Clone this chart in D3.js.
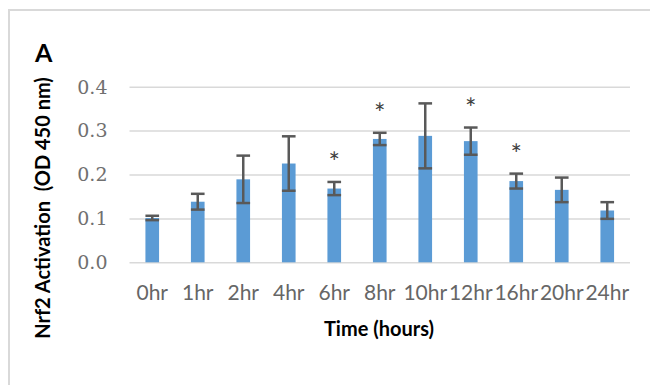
<html>
<head>
  <meta charset="utf-8">
  <script src="https://d3js.org/d3.v7.min.js"></script>
</head>
<style>
  body { margin: 0; background: #fff; }
  .grid line { stroke: #d9d9d9; stroke-width: 1.5; }
  .grid path { display: none; }
</style>
<body>
  <div class="chart"></div>
  <script>
    // values
    var times = ["0hr", "1hr", "2hr", "4hr", "6hr", "8hr", "10hr", "12hr", "16hr", "20hr", "24hr"];
    var means = [0.101, 0.138, 0.189, 0.225, 0.168, 0.281, 0.288, 0.276, 0.185, 0.165, 0.118];
    var errs  = [0.005, 0.018, 0.054, 0.062, 0.015, 0.014, 0.074, 0.031, 0.017, 0.028, 0.019];
    var starred = ["6hr", "8hr", "12hr", "16hr"];
    var yTicks = [0, 0.1, 0.2, 0.3, 0.4];

    var margin = {top: 86.7, right: 20, bottom: 122.7, left: 129.5};
    var width = 650 - margin.left - margin.right;
    var height = 385 - margin.top - margin.bottom;

    var svg = d3.select('.chart')
      .append('svg')
        .attr('width', 650)
        .attr('height', 385);

    // outer frame
    svg.append("rect")
        .attr("x", 9).attr("y", 10)
        .attr("width", 700).attr("height", 400)
        .style("fill", "none")
        .style("stroke", "#d9d9d9")
        .style("stroke-width", 2);

    // panel letter
    svg.append("text")
        .attr("x", 35).attr("y", 61.5)
        .style("font", "bold 25px Lato")
        .style("fill", "#000")
        .text("A");

    var x = d3.scaleBand().domain(times).range([0, width]).paddingInner(0.7).paddingOuter(0.35);
    var y = d3.scaleLinear().domain([0, 0.4]).range([height, 0]);

    var g = svg.append("g")
      .attr("transform", "translate(" + margin.left + "," + margin.top + ")");

    // gridlines
    g.append("g")
        .attr("class", "grid")
        .call(d3.axisLeft(y).tickValues(yTicks).tickSize(-width).tickFormat(""));

    // y tick labels
    g.selectAll(".ylab")
      .data(yTicks)
      .enter().append("text")
        .attr("class", "ylab")
        .attr("x", -22)
        .attr("y", function(d) { return y(d); })
        .attr("dy", "0.36em")
        .style("text-anchor", "end")
        .style("font", "19px 'DejaVu Serif'")
        .style("fill", "#707070")
        .text(function(d) { return d3.format(".1f")(d); });

    // bars
    g.selectAll(".bar")
      .data(times)
      .enter().append("rect")
        .attr("class", "bar")
        .attr("x", function(d) { return x(d); })
        .attr("width", x.bandwidth())
        .attr("y", function(d, i) { return y(means[i]); })
        .attr("height", function(d, i) { return height - y(means[i]); })
        .style("fill", "#5b9bd5");

    // error bars
    var eb = g.selectAll(".err")
      .data(times)
      .enter().append("g")
        .attr("class", "err")
        .style("stroke", "#595959")
        .style("stroke-width", 2.5);

    eb.append("line")
        .attr("x1", function(d) { return x(d) + x.bandwidth() / 2; })
        .attr("x2", function(d) { return x(d) + x.bandwidth() / 2; })
        .attr("y1", function(d, i) { return y(means[i] + errs[i]); })
        .attr("y2", function(d, i) { return y(means[i] - errs[i]); });

    [1, -1].forEach(function(s) {
      eb.append("line")
          .attr("x1", function(d) { return x(d); })
          .attr("x2", function(d) { return x(d) + x.bandwidth(); })
          .attr("y1", function(d, i) { return y(means[i] + s * errs[i]); })
          .attr("y2", function(d, i) { return y(means[i] + s * errs[i]); });
    });

    // significance stars
    g.selectAll(".star")
      .data(times.filter(function(t) { return starred.indexOf(t) >= 0; }))
      .enter().append("text")
        .attr("class", "star")
        .attr("x", function(d) { return x(d) + x.bandwidth() / 2; })
        .attr("y", function(d) { var i = times.indexOf(d); return y(means[i] + errs[i]) - 10; })
        .style("text-anchor", "middle")
        .style("font", "27px Lato")
        .style("fill", "#404040")
        .text("*");

    // x tick labels
    g.selectAll(".xlab")
      .data(times)
      .enter().append("text")
        .attr("class", "xlab")
        .attr("x", function(d) { return x(d) + x.bandwidth() / 2; })
        .attr("y", height + 38)
        .style("text-anchor", "middle")
        .style("font", "21px Lato")
        .style("fill", "#666")
        .text(function(d) { return d; });

    // x axis title
    svg.append("text")
        .attr("x", 379).attr("y", 335.5)
        .style("text-anchor", "middle")
        .style("font", "bold 20px Lato")
        .style("fill", "#000")
        .text("Time (hours)");

    // y axis title
    svg.append("text")
        .attr("transform", "translate(49.5,208) rotate(-90)")
        .style("text-anchor", "middle")
        .style("font", "bold 20px Lato")
        .style("white-space", "pre")
        .style("fill", "#000")
        .text("Nrf2 Activation  (OD 450 nm)");
  </script>
</body>
</html>
